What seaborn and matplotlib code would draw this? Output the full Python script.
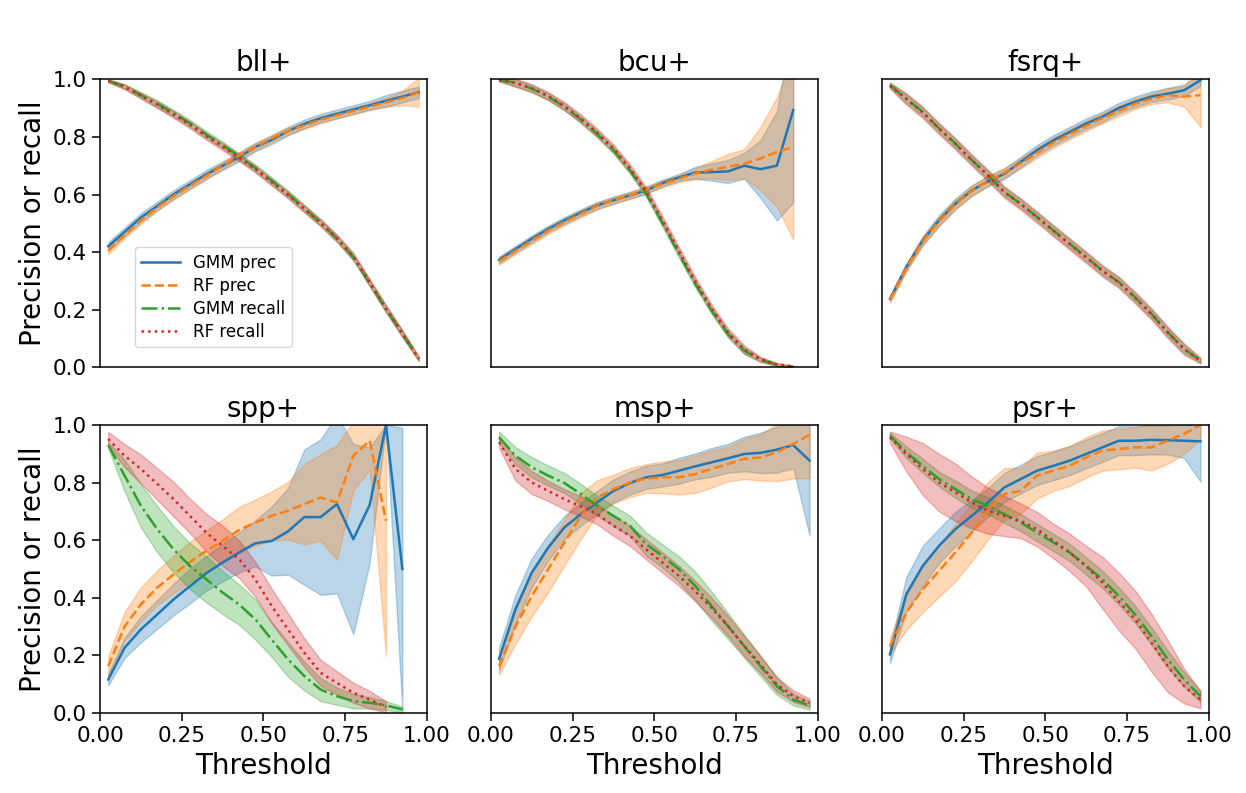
import numpy as np
import pandas as pd
import matplotlib
matplotlib.use("Agg")
import matplotlib.pyplot as plt
import seaborn as sns

# thresholds (bin centres)
thresholds = [0.025, 0.075, 0.125, 0.175, 0.225, 0.275, 0.325, 0.375, 0.425, 0.475,
              0.525, 0.575, 0.625, 0.675, 0.725, 0.775, 0.825, 0.875, 0.925, 0.975]

series_names = ["GMM prec", "RF prec", "GMM recall", "RF recall"]
panel_names = ["bll+", "bcu+", "fsrq+", "spp+", "msp+", "psr+"]

# --- bll+ ---
bll_gmm_prec = [0.42, 0.47, 0.52, 0.56, 0.60, 0.635, 0.67, 0.70, 0.73, 0.765,
                0.79, 0.82, 0.845, 0.865, 0.88, 0.895, 0.91, 0.925, 0.94, 0.955]
bll_gmm_prec_err = [0.015] * 17 + [0.02, 0.02, 0.02]
bll_rf_prec = [0.405, 0.46, 0.51, 0.555, 0.595, 0.63, 0.665, 0.70, 0.735, 0.765,
               0.795, 0.82, 0.84, 0.86, 0.875, 0.89, 0.905, 0.92, 0.935, 0.955]
bll_rf_prec_err = [0.012] * 17 + [0.015, 0.025, 0.05]
bll_gmm_rec = [0.995, 0.975, 0.945, 0.915, 0.882, 0.847, 0.808, 0.772, 0.732, 0.692,
               0.648, 0.602, 0.552, 0.502, 0.447, 0.382, 0.292, 0.202, 0.117, 0.03]
bll_gmm_rec_err = [0.005, 0.008, 0.01] + [0.012] * 16 + [0.008]
bll_rf_rec = [0.995, 0.974, 0.943, 0.912, 0.878, 0.842, 0.802, 0.766, 0.728, 0.688,
              0.643, 0.598, 0.55, 0.502, 0.448, 0.385, 0.295, 0.204, 0.117, 0.03]
bll_rf_rec_err = [0.005, 0.008, 0.01] + [0.012] * 16 + [0.008]

# --- bcu+ ---
bcu_gmm_prec = [0.373, 0.41, 0.446, 0.48, 0.51, 0.537, 0.562, 0.58, 0.597, 0.614,
                0.64, 0.659, 0.676, 0.678, 0.68, 0.70, 0.688, 0.70, 0.893]
bcu_gmm_prec_err = [0.012] * 12 + [0.02, 0.03, 0.04, 0.045, 0.1, 0.19, 0.32]
bcu_rf_prec = [0.368, 0.405, 0.44, 0.475, 0.505, 0.533, 0.56, 0.58, 0.597, 0.617,
               0.637, 0.655, 0.672, 0.686, 0.696, 0.707, 0.725, 0.748, 0.765]
bcu_rf_prec_err = [0.012] * 12 + [0.02, 0.03, 0.045, 0.05, 0.11, 0.19, 0.32]
bcu_gmm_rec = [0.997, 0.988, 0.968, 0.94, 0.904, 0.86, 0.81, 0.754, 0.684, 0.603,
               0.50, 0.394, 0.29, 0.197, 0.116, 0.058, 0.026, 0.009, 0.002]
bcu_gmm_rec_err = [0.004] + [0.012] * 15 + [0.008, 0.005, 0.003]
bcu_rf_rec = [0.997, 0.988, 0.969, 0.942, 0.907, 0.864, 0.815, 0.76, 0.692, 0.612,
              0.51, 0.405, 0.30, 0.205, 0.122, 0.062, 0.028, 0.01, 0.003]
bcu_rf_rec_err = [0.004] + [0.014] * 15 + [0.008, 0.005, 0.003]

# --- fsrq+ ---
fsrq_gmm_prec = [0.238, 0.348, 0.44, 0.51, 0.568, 0.614, 0.646, 0.672, 0.713, 0.754,
                 0.788, 0.817, 0.846, 0.87, 0.90, 0.922, 0.94, 0.95, 0.962, 0.997]
fsrq_gmm_prec_err = [0.01, 0.012, 0.015] + [0.018] * 14 + [0.02, 0.02, 0.02]
fsrq_rf_prec = [0.235, 0.345, 0.437, 0.507, 0.565, 0.612, 0.648, 0.675, 0.708, 0.745,
                0.78, 0.81, 0.838, 0.865, 0.89, 0.915, 0.932, 0.945, 0.94, 0.945]
fsrq_rf_prec_err = [0.01, 0.012, 0.015] + [0.018] * 14 + [0.025, 0.035, 0.11]
fsrq_gmm_rec = [0.98, 0.933, 0.887, 0.83, 0.777, 0.72, 0.667, 0.609, 0.568, 0.522,
                0.475, 0.429, 0.383, 0.336, 0.296, 0.243, 0.186, 0.122, 0.064, 0.023]
fsrq_gmm_rec_err = [0.008] + [0.015] * 18 + [0.008]
fsrq_rf_rec = [0.978, 0.932, 0.885, 0.829, 0.776, 0.72, 0.666, 0.608, 0.567, 0.521,
               0.474, 0.428, 0.382, 0.335, 0.295, 0.242, 0.185, 0.121, 0.063, 0.023]
fsrq_rf_rec_err = [0.01] + [0.02] * 18 + [0.01]

# --- spp+ ---
spp_gmm_prec = [0.116, 0.226, 0.29, 0.342, 0.394, 0.44, 0.485, 0.522, 0.557, 0.589,
                0.597, 0.63, 0.68, 0.68, 0.725, 0.603, 0.722, 1.0, 0.5]
spp_gmm_prec_err = [0.02, 0.035, 0.045, 0.05, 0.055, 0.06, 0.06, 0.065, 0.07, 0.08,
                    0.12, 0.15, 0.235, 0.27, 0.31, 0.33, 0.2, 0.0, 0.49]
spp_rf_prec = [0.162, 0.30, 0.377, 0.435, 0.481, 0.524, 0.563, 0.597, 0.635, 0.661,
               0.684, 0.702, 0.725, 0.748, 0.731, 0.893, 0.945, 0.667]
spp_rf_prec_err = [0.035, 0.05, 0.06, 0.06, 0.065, 0.07, 0.07, 0.075, 0.08, 0.08,
                   0.085, 0.1, 0.14, 0.15, 0.2, 0.12, 0.1, 0.47]
spp_gmm_rec = [0.93, 0.824, 0.719, 0.638, 0.568, 0.51, 0.464, 0.418, 0.377, 0.325,
               0.255, 0.186, 0.128, 0.081, 0.058, 0.041, 0.035, 0.026, 0.012]
spp_gmm_rec_err = [0.01, 0.055, 0.075, 0.08, 0.08, 0.08, 0.08, 0.075, 0.07, 0.07,
                   0.06, 0.06, 0.05, 0.04, 0.03, 0.025, 0.02, 0.015, 0.01]
spp_rf_rec = [0.951, 0.893, 0.847, 0.795, 0.742, 0.684, 0.626, 0.58, 0.534, 0.464,
              0.371, 0.29, 0.209, 0.139, 0.104, 0.07, 0.046, 0.021]
spp_rf_rec_err = [0.025, 0.04, 0.05, 0.055, 0.06, 0.06, 0.065, 0.07, 0.065, 0.06,
                  0.06, 0.055, 0.05, 0.045, 0.04, 0.035, 0.03, 0.02]

# --- msp+ ---
msp_gmm_prec = [0.188, 0.36, 0.487, 0.574, 0.644, 0.69, 0.731, 0.771, 0.798, 0.818,
                0.826, 0.841, 0.856, 0.87, 0.884, 0.899, 0.903, 0.914, 0.93, 0.876]
msp_gmm_prec_err = [0.04, 0.05, 0.05, 0.045, 0.04, 0.04, 0.04, 0.04, 0.04, 0.04,
                    0.04, 0.045, 0.045, 0.05, 0.05, 0.06, 0.07, 0.08, 0.08, 0.26]
msp_rf_prec = [0.162, 0.30, 0.406, 0.499, 0.592, 0.684, 0.748, 0.777, 0.80, 0.814,
               0.818, 0.818, 0.829, 0.847, 0.864, 0.882, 0.887, 0.905, 0.934, 0.965]
msp_rf_prec_err = [0.03, 0.06, 0.07, 0.08, 0.08, 0.08, 0.06, 0.05, 0.05, 0.05,
                   0.055, 0.06, 0.065, 0.065, 0.06, 0.07, 0.08, 0.1, 0.12, 0.15]
msp_gmm_rec = [0.957, 0.893, 0.853, 0.824, 0.798, 0.76, 0.719, 0.684, 0.65, 0.586,
               0.545, 0.499, 0.441, 0.371, 0.302, 0.232, 0.162, 0.093, 0.046, 0.026]
msp_gmm_rec_err = [0.02, 0.03, 0.035, 0.035, 0.035, 0.035, 0.035, 0.035, 0.035, 0.04,
                   0.04, 0.045, 0.05, 0.05, 0.045, 0.04, 0.035, 0.03, 0.02, 0.015]
msp_rf_rec = [0.94, 0.847, 0.80, 0.771, 0.742, 0.717, 0.69, 0.65, 0.615, 0.568,
              0.522, 0.476, 0.423, 0.365, 0.302, 0.232, 0.168, 0.099, 0.058, 0.035]
msp_rf_rec_err = [0.02, 0.04, 0.04, 0.035, 0.035, 0.035, 0.035, 0.035, 0.035, 0.035,
                  0.035, 0.035, 0.035, 0.035, 0.035, 0.035, 0.03, 0.025, 0.02, 0.015]

# --- psr+ ---
psr_gmm_prec = [0.203, 0.412, 0.51, 0.58, 0.638, 0.684, 0.731, 0.783, 0.812, 0.841,
                0.858, 0.876, 0.899, 0.922, 0.945, 0.945, 0.948, 0.947, 0.945, 0.943]
psr_gmm_prec_err = [0.03, 0.06, 0.07, 0.06, 0.06, 0.055, 0.05, 0.05, 0.05, 0.05,
                    0.05, 0.05, 0.05, 0.05, 0.05, 0.05, 0.05, 0.05, 0.06, 0.14]
psr_rf_prec = [0.232, 0.348, 0.429, 0.493, 0.557, 0.626, 0.702, 0.76, 0.771, 0.824,
               0.841, 0.858, 0.887, 0.911, 0.916, 0.922, 0.922, 0.945, 0.969, 1.0]
psr_rf_prec_err = [0.03, 0.06, 0.08, 0.09, 0.1, 0.1, 0.1, 0.09, 0.08, 0.08,
                   0.07, 0.07, 0.07, 0.07, 0.07, 0.07, 0.08, 0.08, 0.07, 0.05]
psr_gmm_rec = [0.963, 0.905, 0.858, 0.812, 0.777, 0.742, 0.719, 0.69, 0.661, 0.626,
               0.592, 0.557, 0.51, 0.464, 0.406, 0.342, 0.267, 0.186, 0.116, 0.058]
psr_gmm_rec_err = [0.01, 0.02, 0.025, 0.025, 0.03, 0.03, 0.03, 0.03, 0.03, 0.03,
                   0.03, 0.03, 0.03, 0.03, 0.03, 0.03, 0.03, 0.03, 0.025, 0.02]
psr_rf_rec = [0.957, 0.899, 0.847, 0.80, 0.766, 0.731, 0.702, 0.684, 0.667, 0.638,
              0.597, 0.557, 0.51, 0.452, 0.387, 0.325, 0.244, 0.162, 0.093, 0.046]
psr_rf_rec_err = [0.02, 0.06, 0.09, 0.1, 0.1, 0.09, 0.08, 0.07, 0.06, 0.06,
                  0.06, 0.065, 0.07, 0.09, 0.1, 0.1, 0.1, 0.09, 0.06, 0.03]

panels = {
    "bll+": [(bll_gmm_prec, bll_gmm_prec_err), (bll_rf_prec, bll_rf_prec_err),
             (bll_gmm_rec, bll_gmm_rec_err), (bll_rf_rec, bll_rf_rec_err)],
    "bcu+": [(bcu_gmm_prec, bcu_gmm_prec_err), (bcu_rf_prec, bcu_rf_prec_err),
             (bcu_gmm_rec, bcu_gmm_rec_err), (bcu_rf_rec, bcu_rf_rec_err)],
    "fsrq+": [(fsrq_gmm_prec, fsrq_gmm_prec_err), (fsrq_rf_prec, fsrq_rf_prec_err),
              (fsrq_gmm_rec, fsrq_gmm_rec_err), (fsrq_rf_rec, fsrq_rf_rec_err)],
    "spp+": [(spp_gmm_prec, spp_gmm_prec_err), (spp_rf_prec, spp_rf_prec_err),
             (spp_gmm_rec, spp_gmm_rec_err), (spp_rf_rec, spp_rf_rec_err)],
    "msp+": [(msp_gmm_prec, msp_gmm_prec_err), (msp_rf_prec, msp_rf_prec_err),
             (msp_gmm_rec, msp_gmm_rec_err), (msp_rf_rec, msp_rf_rec_err)],
    "psr+": [(psr_gmm_prec, psr_gmm_prec_err), (psr_rf_prec, psr_rf_prec_err),
             (psr_gmm_rec, psr_gmm_rec_err), (psr_rf_rec, psr_rf_rec_err)],
}

colors = ["#1f77b4", "#ff7f0e", "#2ca02c", "#d62728"]
styles = ["-", "--", "-.", ":"]

fig, axes = plt.subplots(2, 3, figsize=(12.46, 7.93), dpi=100, sharex=True, sharey=True)
fig.subplots_adjust(left=0.0803, right=0.970, top=0.900, bottom=0.101, wspace=0.196, hspace=0.2)

for i, name in enumerate(panel_names):
    ax = axes.flat[i]
    for j, (vals, err) in enumerate(panels[name]):
        x = np.array(thresholds[:len(vals)])
        y = np.array(vals)
        e = np.array(err)
        ax.fill_between(x, y - e, y + e, color=colors[j], alpha=0.3)
        sns.lineplot(x=x, y=y, ax=ax, color=colors[j], linestyle=styles[j],
                     linewidth=1.8, label=series_names[j], legend=False)
    ax.set_title(name, fontsize=20)
    ax.set_xlim(0, 1)
    ax.set_ylim(0, 1)
    ax.set_xticks([0, 0.25, 0.5, 0.75, 1.0])
    ax.set_yticks([0, 0.2, 0.4, 0.6, 0.8, 1.0])
    ax.set_xticklabels(["0.00", "0.25", "0.50", "0.75", "1.00"])
    ax.set_yticklabels(["0.0", "0.2", "0.4", "0.6", "0.8", "1.0"])
    ax.tick_params(labelsize=15.5, length=6, width=1.1)
    for sp in ax.spines.values():
        sp.set_linewidth(1.1)
    row, col = divmod(i, 3)
    if row == 0:
        ax.tick_params(axis="x", bottom=False, labelbottom=False)
        ax.set_xlabel("")
    else:
        ax.set_xlabel("Threshold", fontsize=20)
    if col != 0:
        ax.tick_params(axis="y", left=False, labelleft=False)
        ax.set_ylabel("")
    else:
        ax.set_ylabel("Precision or recall", fontsize=20)

axes[0, 0].legend(loc="lower left", bbox_to_anchor=(0.08, 0.04), fontsize=12,
                  labelspacing=0.3, handlelength=2.3)

plt.savefig("out.png", dpi=100)
